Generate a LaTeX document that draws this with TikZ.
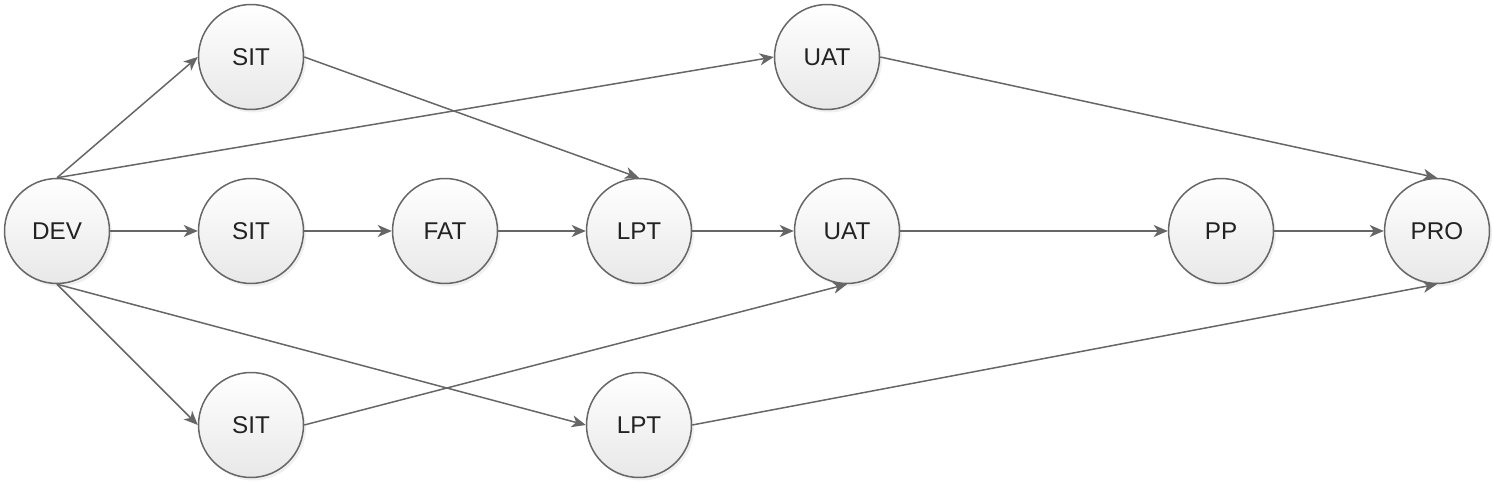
\documentclass[tikz,border=0pt]{standalone}
\usepackage{fontspec}
\setmainfont{Liberation Sans}
\usepackage{tikz}
\usetikzlibrary{arrows.meta, shadows}

\definecolor{linegray}{HTML}{666666}
\definecolor{textgray}{HTML}{222222}
\definecolor{fillgray}{HTML}{E8E8E8}

\begin{document}
\begin{tikzpicture}[
    x=0.02cm, y=-0.02cm,
    >={Stealth[length=2.8mm, width=2.4mm, inset=0.8mm]},
    env/.style={
        circle,
        draw=linegray,
        line width=0.85pt,
        top color=white,
        bottom color=fillgray,
        minimum size=2.1cm,
        inner sep=0pt,
        align=center,
        text=textgray,
        font=\fontsize{13.8}{16}\selectfont,
        drop shadow={shadow xshift=0.5mm, shadow yshift=-0.6mm, opacity=0.12}
    },
    link/.style={
        ->,
        line width=0.85pt,
        linegray
    }
]

\useasboundingbox (0,0) rectangle (1494,482);

% =============== AMBIENTES ===============

% Origem
\node[env] (dev)  at (57, 231)   {DEV};

% Linha superior
\node[env] (sit_top) at (251, 57)  {SIT};
\node[env] (uat_top) at (827, 57)  {UAT};

% Linha central
\node[env] (sit_mid) at (251, 231) {SIT};
\node[env] (fat)     at (445, 231) {FAT};
\node[env] (lpt_mid) at (639, 231) {LPT};
\node[env] (uat_mid) at (847, 231) {UAT};
\node[env] (pp)      at (1221, 231) {PP};
\node[env] (pro)     at (1437, 231) {PRO};

% Linha inferior
\node[env] (sit_bot) at (251, 425) {SIT};
\node[env] (lpt_bot) at (639, 425) {LPT};

% =============== FLUXO CENTRAL ===============

\draw[link] (dev) -- (sit_mid);
\draw[link] (sit_mid) -- (fat);
\draw[link] (fat) -- (lpt_mid);
\draw[link] (lpt_mid) -- (uat_mid);
\draw[link] (uat_mid) -- (pp);
\draw[link] (pp) -- (pro);

% =============== DESVIOS ===============

\draw[link] (dev.north) -- (sit_top.west);
\draw[link] (dev.north) -- (uat_top.west);
\draw[link] (dev.south) -- (sit_bot.west);
\draw[link] (dev.south) -- (lpt_bot.west);
\draw[link] (sit_top.east) -- (lpt_mid.north);
\draw[link] (sit_bot.east) -- (uat_mid.south);
\draw[link] (uat_top.east) -- (pro.north);
\draw[link] (lpt_bot.east) -- (pro.south);

\end{tikzpicture}
\end{document}
